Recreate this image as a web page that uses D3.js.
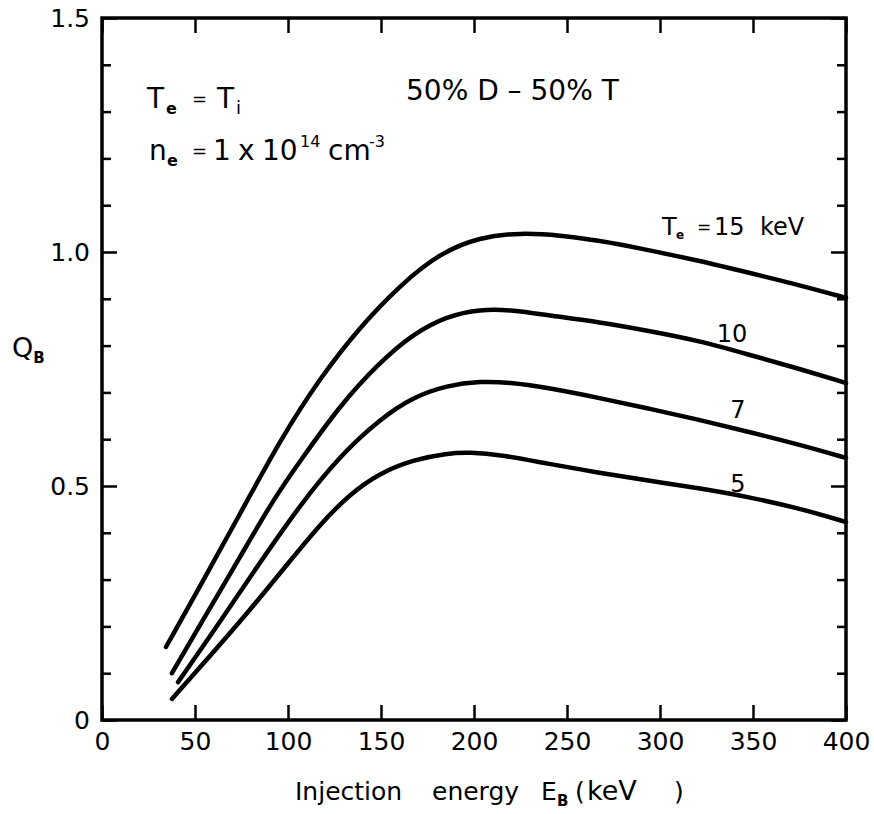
<!DOCTYPE html>
<html>
<head>
<meta charset="utf-8">
<script src="https://cdn.jsdelivr.net/npm/d3@7"></script>
<style>
  body { margin: 0; background: #fff; }
  text { font-family: 'DejaVu Sans', sans-serif; fill: #000; }
</style>
</head>
<body>
<div id="chart"></div>
<script>
// values: injection energy E_B (keV) and Q_B, one pair of arrays per T_e
const energy15 = [34.4, 52.7, 74.2, 95.7, 117.2, 138.7, 160.2, 181.7, 203.2, 224.7, 246.2, 267.7, 289.2, 321.5, 348.4, 375.3, 400];
const q15      = [0.156, 0.286, 0.440, 0.598, 0.731, 0.840, 0.929, 0.998, 1.032, 1.041, 1.036, 1.024, 1.008, 0.981, 0.955, 0.929, 0.902];
const energy10 = [37.6, 52.7, 74.2, 91.9, 106.5, 128, 149.5, 167.2, 185.5, 203.2, 221, 239.2, 267.7, 294.6, 321.5, 348.4, 375.3, 400];
const q10      = [0.100, 0.203, 0.348, 0.470, 0.553, 0.673, 0.765, 0.825, 0.863, 0.878, 0.876, 0.865, 0.850, 0.831, 0.810, 0.780, 0.750, 0.720];
const energy7  = [40.9, 59.7, 81.2, 106.5, 128, 149.5, 167.2, 185.5, 203.2, 221, 239.2, 267.7, 294.6, 321.5, 348.4, 375.3, 400];
const q7       = [0.081, 0.188, 0.315, 0.460, 0.565, 0.643, 0.690, 0.715, 0.724, 0.721, 0.710, 0.688, 0.665, 0.641, 0.615, 0.588, 0.560];
const energy5  = [37.6, 58.1, 79.6, 101.1, 117.2, 133.3, 149.5, 167.2, 185.5, 197.8, 214, 239.2, 267.7, 294.6, 321.5, 348.4, 375.3, 400];
const q5       = [0.045, 0.137, 0.235, 0.340, 0.418, 0.483, 0.528, 0.556, 0.570, 0.572, 0.567, 0.548, 0.528, 0.511, 0.495, 0.476, 0.452, 0.423];

const xTicks = [0, 50, 100, 150, 200, 250, 300, 350, 400];
const yMajor = [0, 0.5, 1.0, 1.5];
const yMajorLabels = ['0', '0.5', '1.0', '1.5'];
const yMinor = [0.1, 0.2, 0.3, 0.4, 0.6, 0.7, 0.8, 0.9, 1.1, 1.2, 1.3, 1.4];

const width = 874;
const height = 814;

const svg = d3.select('#chart').append('svg')
  .attr('width', width)
  .attr('height', height);

const x = d3.scaleLinear().domain([0, 400]).range([102, 846]);
const y = d3.scaleLinear().domain([0, 1.5]).range([720, 18]);

//ticks, all pointing inwards
const tickStyle = function(g) {
  g.select('.domain').remove();
  g.selectAll('.tick line').attr('stroke', '#000').attr('stroke-width', 2.5);
  g.selectAll('.tick text')
    .style('font-family', "'DejaVu Sans', sans-serif")
    .style('font-size', '25px')
    .attr('fill', '#000');
};

svg.append('g')
  .attr('transform', 'translate(0,720)')
  .call(d3.axisBottom(x).tickValues(xTicks).tickSize(-15).tickPadding(12).tickFormat(d3.format('d')))
  .call(tickStyle);

svg.append('g')
  .attr('transform', 'translate(0,18)')
  .call(d3.axisTop(x).tickValues(xTicks).tickSize(-15).tickFormat(''))
  .call(tickStyle);

svg.append('g')
  .attr('transform', 'translate(102,0)')
  .call(d3.axisLeft(y).tickValues(yMajor).tickSize(-15).tickPadding(12)
    .tickFormat(function(d, i) { return yMajorLabels[i]; }))
  .call(tickStyle);

svg.append('g')
  .attr('transform', 'translate(102,0)')
  .call(d3.axisLeft(y).tickValues(yMinor).tickSize(-9).tickFormat(''))
  .call(tickStyle);

svg.append('g')
  .attr('transform', 'translate(846,0)')
  .call(d3.axisRight(y).tickValues(yMajor).tickSize(-15).tickFormat(''))
  .call(tickStyle);

svg.append('g')
  .attr('transform', 'translate(846,0)')
  .call(d3.axisRight(y).tickValues(yMinor).tickSize(-9).tickFormat(''))
  .call(tickStyle);

//the frame
svg.append('rect')
  .attr('x', x(0))
  .attr('y', y(1.5))
  .attr('width', x(400) - x(0))
  .attr('height', y(0) - y(1.5))
  .attr('fill', 'none')
  .attr('stroke', '#000')
  .attr('stroke-width', 3.5);

//the curves
const series = [
  { e: energy15, q: q15 },
  { e: energy10, q: q10 },
  { e: energy7, q: q7 },
  { e: energy5, q: q5 }
];

const line = d3.line()
  .x(function(d) { return x(d[0]); })
  .y(function(d) { return y(d[1]); })
  .curve(d3.curveBasis);

series.forEach(function(s) {
  svg.append('path')
    .datum(d3.zip(s.e, s.q))
    .attr('d', line)
    .attr('fill', 'none')
    .attr('stroke', '#000')
    .attr('stroke-width', 4.5)
    .attr('stroke-linecap', 'round');
});

//curve labels
const g = svg.append('g').style('font-size', '24px');
const t15 = g.append('text').attr('y', 235);
t15.append('tspan').attr('x', 662).text('T');
t15.append('tspan').attr('x', 676).attr('dy', 4).style('font-size', '12px').style('font-weight', 'bold').text('e');
t15.append('tspan').attr('x', 697).attr('dy', -6).style('font-size', '17px').text('=');
t15.append('tspan').attr('x', 714).attr('dy', 2).text('15');
t15.append('tspan').attr('x', 760).text('keV');

g.append('text').attr('x', 732).attr('y', 342).style('text-anchor', 'middle').text('10');
g.append('text').attr('x', 738).attr('y', 418).style('text-anchor', 'middle').text('7');
g.append('text').attr('x', 738).attr('y', 492).style('text-anchor', 'middle').text('5');

//annotations upper left
const ann = svg.append('g').style('font-size', '28px');
const a1 = ann.append('text').attr('y', 108);
a1.append('tspan').attr('x', 147).text('T');
a1.append('tspan').attr('x', 166).attr('dy', 6).style('font-size', '16px').style('font-weight', 'bold').text('e');
a1.append('tspan').attr('x', 192).attr('dy', -9).style('font-size', '18px').text('=');
a1.append('tspan').attr('x', 217).attr('dy', 3).text('T');
a1.append('tspan').attr('x', 236).attr('dy', 6).style('font-size', '18px').text('i');

const a2 = ann.append('text').attr('y', 160);
a2.append('tspan').attr('x', 149).text('n');
a2.append('tspan').attr('x', 167).attr('dy', 6).style('font-size', '16px').style('font-weight', 'bold').text('e');
a2.append('tspan').attr('x', 192).attr('dy', -9).style('font-size', '18px').text('=');
a2.append('tspan').attr('x', 213).attr('dy', 3).text('1');
a2.append('tspan').attr('x', 238).text('x');
a2.append('tspan').attr('x', 262).text('10');
a2.append('tspan').attr('x', 300).attr('dy', -13).style('font-size', '16px').text('14');
a2.append('tspan').attr('x', 328).attr('dy', 13).text('cm');
a2.append('tspan').attr('x', 369).attr('dy', -13).style('font-size', '16px').text('-3');

ann.append('text').attr('x', 406).attr('y', 100).text('50% D \u2013 50% T');

//axis titles
const xt = svg.append('text').attr('y', 800).style('font-size', '25px');
xt.append('tspan').attr('x', 295).text('Injection');
xt.append('tspan').attr('x', 432).text('energy');
xt.append('tspan').attr('x', 541).text('E');
xt.append('tspan').attr('x', 557).attr('dy', 6).style('font-size', '15px').style('font-weight', 'bold').text('B');
xt.append('tspan').attr('x', 575).attr('dy', -6).text('(');
xt.append('tspan').attr('x', 587).style('font-size', '27px').text('keV');
xt.append('tspan').attr('x', 674).text(')');

const yt = svg.append('text').attr('x', 12).attr('y', 357).style('font-size', '27px');
yt.append('tspan').text('Q');
yt.append('tspan').attr('dy', 6).style('font-size', '15px').style('font-weight', 'bold').text('B');
</script>
</body>
</html>
